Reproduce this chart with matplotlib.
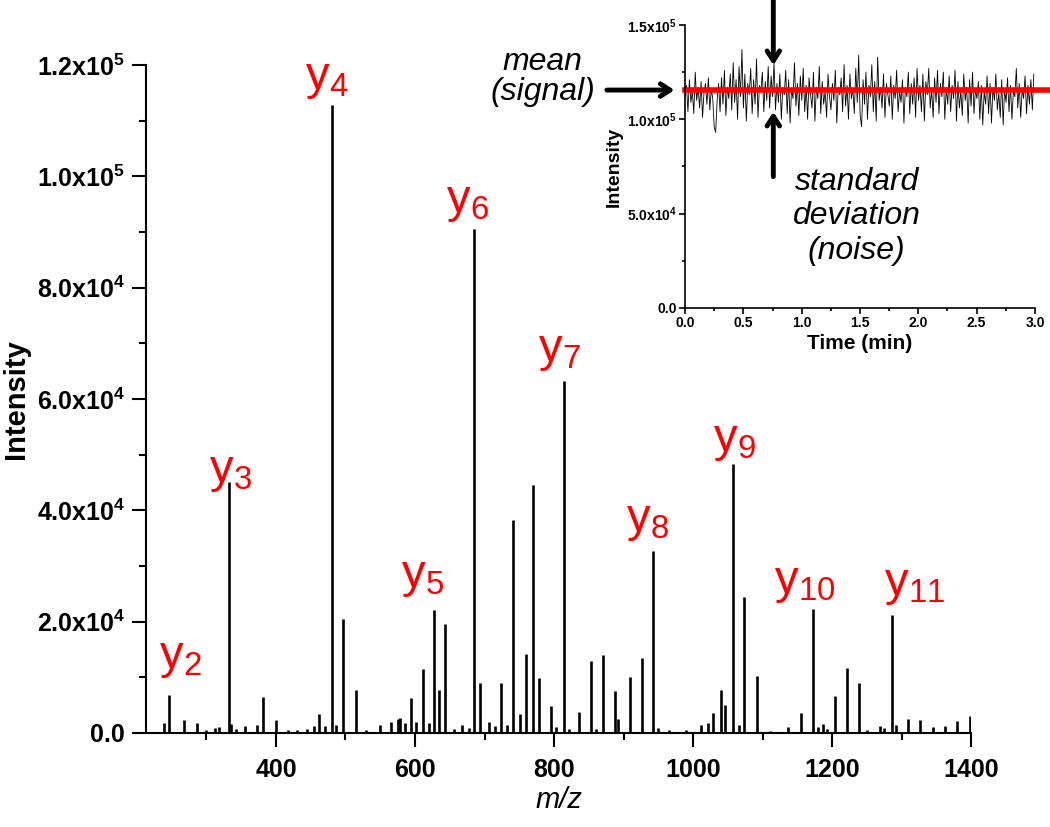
# MS/MS spectrum with y-ion labels, plus an inset showing signal vs. noise
import numpy as np
import matplotlib
matplotlib.use("Agg")
import matplotlib.pyplot as plt
from matplotlib.ticker import MultipleLocator, FixedLocator

plt.rcParams["font.family"] = ["Liberation Sans", "DejaVu Sans"]
plt.rcParams["mathtext.fontset"] = "custom"
plt.rcParams["mathtext.rm"] = "Liberation Sans"
plt.rcParams["mathtext.it"] = "Liberation Sans:italic"
plt.rcParams["mathtext.bf"] = "Liberation Sans:bold"

# Data: fragment peaks (m/z, intensity)
peak_mz = [239, 246, 268, 286, 300, 312, 318, 333, 336, 342, 355, 373, 382,
           400, 418, 430, 445, 455, 462, 470, 480, 486, 497, 515, 530, 549,
           566, 575, 578, 586, 594, 602, 612, 620, 627, 634, 643, 656, 667,
           677, 685, 693.5, 707, 715, 723, 733, 740.5, 751, 759, 769, 777.7,
           795, 803, 814, 822, 835.5, 852.8, 860, 870, 887.8, 892, 909.4,
           926.6, 942.4, 950, 965, 990, 1011, 1022, 1029, 1039.8, 1046, 1058,
           1066, 1073.8, 1091.6, 1110, 1136.7, 1154.9, 1171.7, 1180, 1186.6,
           1192, 1203.9, 1222, 1239, 1250, 1269, 1275, 1285.9, 1292, 1308.9,
           1326.6, 1344.8, 1362.6, 1379.9, 1397.5]
peak_int = [1800, 6780, 2400, 1870, 600, 900, 1000, 45000, 1600, 800, 1200,
            1400, 6500, 2400, 500, 600, 700, 1200, 3480, 1200, 112800, 1400,
            20560, 7670, 600, 1500, 2050, 2500, 2600, 1800, 6300, 2000, 11570,
            1800, 22050, 7670, 19660, 800, 1500, 900, 90500, 9060, 2000, 1300,
            9060, 1500, 38200, 3480, 14270, 44500, 9890, 4800, 1000, 63200,
            800, 3780, 12940, 800, 13960, 7500, 2500, 10070, 13480, 32650,
            900, 600, 500, 1500, 1870, 3600, 7800, 5000, 48300, 1500, 24440,
            10310, 400, 1000, 3600, 22360, 1000, 1600, 700, 6650, 11750, 9060,
            500, 1300, 900, 21150, 1500, 2590, 2400, 1000, 1300, 2100, 3000]

# y-ion labels: (subscript, text centre m/z, text bottom intensity)
ion_names = ["2", "3", "4", "5", "6", "7", "8", "9", "10", "11"]
ion_label_mz = [263, 334, 473, 611.5, 675, 807, 934.5, 1059.7, 1161, 1319]
ion_label_int = [9500, 42900, 113500, 24030, 91500, 64640, 34090, 48470,
                 23000, 22640]

main_yticks = [0, 2e4, 4e4, 6e4, 8e4, 1e5, 1.2e5]
main_yticklabels = ["0.0", r"2.0x10$^{\mathbf{4}}$", r"4.0x10$^{\mathbf{4}}$",
                    r"6.0x10$^{\mathbf{4}}$", r"8.0x10$^{\mathbf{4}}$",
                    r"1.0x10$^{\mathbf{5}}$", r"1.2x10$^{\mathbf{5}}$"]
main_xticks = [400, 600, 800, 1000, 1200, 1400]

# Inset: intensity trace over 3 min (x1e3)
trace_k = [
    112, 118, 104, 121, 109, 115, 103, 125, 110, 117, 106, 120, 101, 114, 119, 108, 122, 105, 116, 111,
    96, 93, 110, 119, 104, 122, 108, 126, 102, 117, 111, 124, 105, 130, 109, 121, 100, 128, 112, 137,
    106, 124, 99, 119, 113, 127, 103, 121, 108, 132, 101, 118, 115, 125, 104, 120, 110, 128, 106, 123,
    112, 130, 105, 119, 109, 124, 100, 117, 113, 126, 103, 121, 98, 116, 111, 130, 107, 119, 102, 123,
    110, 127, 104, 118, 100, 122, 113, 106, 125, 99, 117, 111, 128, 103, 120, 108, 115, 101, 124, 112,
    105, 119, 110, 126, 98, 117, 113, 122, 104, 129, 107, 118, 100, 124, 111, 116, 103, 127, 109, 134,
    102, 96, 121, 108, 125, 100, 118, 112, 129, 104, 120, 99, 133, 110, 117, 106, 124, 101, 119, 113,
    107, 123, 100, 118, 111, 126, 104, 115, 109, 121, 98, 117, 112, 125, 103, 119, 108, 122, 101, 127,
    110, 118, 104, 124, 99, 120, 113, 127, 106, 116, 101, 122, 109, 126, 103, 119, 112, 125, 100, 117,
    108, 123, 104, 118, 111, 126, 99, 120, 106, 115, 102, 124, 110, 117, 98, 121, 107, 125, 103, 116,
    111, 120, 100, 118, 97, 115, 108, 123, 103, 119, 98, 117, 110, 124, 105, 114, 101, 121, 97, 116,
    109, 122, 104, 118, 100, 115, 112, 127, 106, 119, 101, 116, 111, 123, 103, 118, 108, 121, 105, 124,
]
trace_end_min = 2.99
mean_signal = 1.155e5

inset_yticks = [0, 5e4, 1e5, 1.5e5]
inset_yticklabels = ["0.0", r"5.0x10$^{\mathbf{4}}$", r"1.0x10$^{\mathbf{5}}$",
                     r"1.5x10$^{\mathbf{5}}$"]

fig = plt.figure(figsize=(10.5, 8.27), dpi=100)

# ---- main spectrum ----
ax = fig.add_axes([0.139, 0.1137, 0.786, 0.8077])
ax.vlines(peak_mz, 0, peak_int, color="black", lw=1.9)
ax.set_xlim(213, 1400)
ax.set_ylim(0, 1.2e5)

for sub, lx, ly in zip(ion_names, ion_label_mz, ion_label_int):
    ax.text(lx, ly, r"y$_{\mathrm{%s}}$" % sub, color="#ff0000", fontsize=34,
            ha="center", va="bottom")

ax.spines["top"].set_visible(False)
ax.spines["right"].set_visible(False)
for s in ("left", "bottom"):
    ax.spines[s].set_linewidth(1.5)

ax.set_xticks(main_xticks)
ax.xaxis.set_minor_locator(FixedLocator([300, 500, 700, 900, 1100, 1300]))
ax.set_yticks(main_yticks, labels=main_yticklabels)
ax.yaxis.set_minor_locator(MultipleLocator(1e4))
ax.tick_params(which="major", direction="out", length=10, width=1.5,
               labelsize=18, pad=5)
ax.tick_params(which="major", axis="x", pad=8)
ax.tick_params(which="minor", direction="out", length=5, width=1.5)
for lab in ax.get_xticklabels() + ax.get_yticklabels():
    lab.set_fontweight("bold")

ax.set_xlabel("m/z", fontsize=21, style="italic")
ax.xaxis.set_label_coords(0.5, -0.08)
ax.set_ylabel("Intensity", fontsize=21, fontweight="bold")
ax.yaxis.set_label_coords(-0.14, 0.5)

# ---- inset: signal and noise over time ----
ax2 = fig.add_axes([0.6524, 0.6276, 0.3333, 0.3422])
t = np.linspace(0, trace_end_min, len(trace_k))
ax2.plot(t, np.array(trace_k) * 1e3, color="black", lw=0.6)
ax2.axhline(mean_signal, xmin=0, xmax=1.05, color="#ff0000", lw=4,
            clip_on=False)
ax2.set_xlim(0, 3.0)
ax2.set_ylim(0, 1.5e5)
ax2.spines["top"].set_visible(False)
ax2.spines["right"].set_visible(False)
for s in ("left", "bottom"):
    ax2.spines[s].set_linewidth(1.2)
ax2.xaxis.set_major_locator(MultipleLocator(0.5))
ax2.xaxis.set_minor_locator(MultipleLocator(0.25))
ax2.xaxis.set_major_formatter(matplotlib.ticker.FormatStrFormatter("%.1f"))
ax2.set_yticks(inset_yticks, labels=inset_yticklabels)
ax2.yaxis.set_minor_locator(MultipleLocator(2.5e4))
ax2.tick_params(which="major", direction="out", length=4, width=1.2,
                labelsize=10, pad=2)
ax2.tick_params(which="minor", direction="out", length=2, width=1.2)
for lab in ax2.get_xticklabels() + ax2.get_yticklabels():
    lab.set_fontweight("bold")
ax2.set_xlabel("Time (min)", fontsize=15, fontweight="bold", labelpad=3)
ax2.set_ylabel("Intensity", fontsize=14, fontweight="bold", labelpad=3)

# arrows and annotations
arrow = dict(arrowstyle="->,head_length=0.7,head_width=0.45", lw=3.5,
             color="black", shrinkA=0, shrinkB=0)
ax2.annotate("", xy=(-0.09, mean_signal), xytext=(-0.67, mean_signal),
             arrowprops=arrow, annotation_clip=False)
ax2.annotate("", xy=(0.757, 1.287e5), xytext=(0.757, 1.64e5),
             arrowprops=arrow, annotation_clip=False)
ax2.annotate("", xy=(0.757, 1.04e5), xytext=(0.757, 0.696e5),
             arrowprops=arrow, annotation_clip=False)
ax2.text(-1.22, 1.225e5, "mean\n(signal)", fontsize=23, style="italic",
         ha="center", va="center", linespacing=1.0, clip_on=False)
ax2.text(1.472, 0.485e5, "standard\ndeviation\n(noise)", fontsize=23,
         style="italic", ha="center", va="center", linespacing=1.2)

fig.savefig("out.png", dpi=100)
